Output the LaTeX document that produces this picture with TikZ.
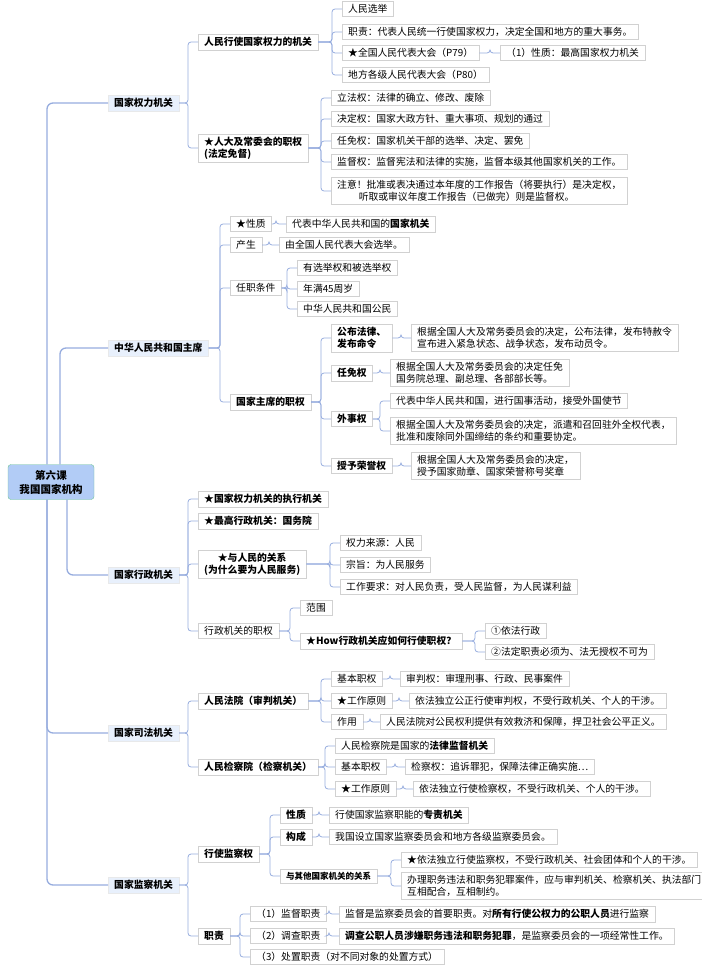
\documentclass[tikz,border=0pt]{standalone}
\usepackage{fontspec}
\setmainfont{Noto Sans CJK SC}
\usetikzlibrary{positioning}
\definecolor{linkblue}{RGB}{150,172,222}
\definecolor{hubfill}{RGB}{232,240,252}
\definecolor{rootfill}{RGB}{178,204,246}
\definecolor{rootline}{RGB}{110,196,150}
\tikzset{
  box/.style={draw=black!18, fill=white, anchor=west, inner xsep=6pt, inner ysep=3pt,
    font=\fontsize{9.8}{12}\selectfont, align=left},
  bbox/.style={box, font=\fontsize{9.8}{12}\selectfont\bfseries},
  hub/.style={bbox, fill=hubfill, draw=hubfill!60!black!20},
  root/.style={draw=rootline, fill=rootfill, rounded corners=3pt, align=center,
    minimum width=86pt, minimum height=35pt, font=\fontsize{10.5}{14}\selectfont\bfseries},
  link/.style={draw=linkblue, line width=0.8pt, rounded corners=3pt},
  trunk/.style={draw=linkblue, line width=1.3pt, rounded corners=6pt}
}
\newcommand{\conn}[2]{\draw[link] (#1.east) -- ([xshift=-10pt]#2.west |- #1.east) |- (#2.west);}
\begin{document}
\begin{tikzpicture}[x=1pt, y=-1pt]
    \useasboundingbox (0,0) rectangle (701,965);

    % root
    \node[root] (lesson) at (51,482) {第六课\\我国国家机构};

    % first level
    \node[hub] (power) at (108,103) {国家权力机关};
    \node[hub] (chair) at (108,348) {中华人民共和国主席};
    \node[hub] (admin) at (108,575) {国家行政机关};
    \node[hub] (judic) at (108,733) {国家司法机关};
    \node[hub] (super) at (108,885) {国家监察机关};

    \draw[trunk] ([xshift=-4pt]lesson.north) |- (power.west);
    \draw[trunk] ([xshift=9pt]lesson.north) |- (chair.west);
    \draw[trunk] ([xshift=16pt]lesson.south) |- (admin.west);
    \draw[trunk] ([xshift=-4pt]lesson.south) |- (judic.west);
    \draw[trunk] ([xshift=-4pt]lesson.south) |- (super.west);

    % power organs
    \node[bbox] (pOrgan) at (198,42) {人民行使国家权力的机关};
    \node[bbox] (pRight) at (198,148) {★人大及常委会的职权\\(法定免督)};
    \conn{power}{pOrgan} \conn{power}{pRight}

    \node[box] (pElect) at (342,9) {人民选举};
    \node[box] (pDuty) at (342,32) {职责：代表人民统一行使国家权力，决定全国和地方的重大事务。};
    \node[box] (pNPC) at (342,53) {★全国人民代表大会（P79）};
    \node[box] (pLocal) at (342,75) {地方各级人民代表大会（P80）};
    \node[box] (pNature) at (500,53) {（1）性质：最高国家权力机关};
    \foreach \c in {pElect,pDuty,pNPC,pLocal} {\conn{pOrgan}{\c}}
    \conn{pNPC}{pNature}

    \node[box] (rLaw) at (331,98) {立法权：法律的确立、修改、废除};
    \node[box] (rDecide) at (331,119) {决定权：国家大政方针、重大事项、规划的通过};
    \node[box] (rAppoint) at (331,141) {任免权：国家机关干部的选举、决定、罢免};
    \node[box] (rWatch) at (331,162) {监督权：监督宪法和法律的实施，监督本级其他国家机关的工作。};
    \node[box] (rNote) at (331,191) {注意！批准或表决通过本年度的工作报告（将要执行）是决定权，\\\hspace{2.2em}听取或审议年度工作报告（已做完）则是监督权。};
    \foreach \c in {rLaw,rDecide,rAppoint,rWatch,rNote} {\conn{pRight}{\c}}

    % president
    \node[box] (cNature) at (230,224) {★性质};
    \node[box] (cOrigin) at (230,245) {产生};
    \node[box] (cCond) at (230,288) {任职条件};
    \node[bbox] (cRight) at (230,402) {国家主席的职权};
    \foreach \c in {cNature,cOrigin,cCond,cRight} {\conn{chair}{\c}}

    \node[box] (cNatureT) at (286,224) {代表中华人民共和国的\textbf{国家机关}};
    \node[box] (cOriginT) at (279,245) {由全国人民代表大会选举。};
    \conn{cNature}{cNatureT} \conn{cOrigin}{cOriginT}

    \node[box] (cVote) at (297,268) {有选举权和被选举权};
    \node[box] (cAge) at (297,289) {年满45周岁};
    \node[box] (cCitizen) at (297,309) {中华人民共和国公民};
    \foreach \c in {cVote,cAge,cCitizen} {\conn{cCond}{\c}}

    \node[bbox] (cLaw) at (331,338) {公布法律、\\发布命令};
    \node[bbox] (cAppoint) at (331,373) {任免权};
    \node[bbox] (cForeign) at (331,419) {外事权};
    \node[bbox] (cHonor) at (331,466) {授予荣誉权};
    \foreach \c in {cLaw,cAppoint,cForeign,cHonor} {\conn{cRight}{\c}}

    \node[box] (cLawT) at (411,338) {根据全国人大及常务委员会的决定，公布法律，发布特赦令\\宣布进入紧急状态、战争状态，发布动员令。};
    \node[box] (cAppointT) at (390,373) {根据全国人大及常务委员会的决定任免\\国务院总理、副总理、各部部长等。};
    \node[box] (cForeignA) at (390,401) {代表中华人民共和国，进行国事活动，接受外国使节};
    \node[box] (cForeignB) at (390,431) {根据全国人大及常务委员会的决定，派遣和召回驻外全权代表，\\批准和废除同外国缔结的条约和重要协定。};
    \node[box] (cHonorT) at (411,466) {根据全国人大及常务委员会的决定，\\授予国家勋章、国家荣誉称号奖章};
    \conn{cLaw}{cLawT} \conn{cAppoint}{cAppointT}
    \conn{cForeign}{cForeignA} \conn{cForeign}{cForeignB}
    \conn{cHonor}{cHonorT}

    % administration
    \node[bbox] (aExec) at (198,499) {★国家权力机关的执行机关};
    \node[bbox] (aTop) at (198,521) {★最高行政机关：国务院};
    \node[bbox, align=center] (aPeople) at (198,564) {★与人民的关系\\(为什么要为人民服务)};
    \node[box] (aRight) at (198,631) {行政机关的职权};
    \foreach \c in {aExec,aTop,aPeople,aRight} {\conn{admin}{\c}}

    \node[box] (aSource) at (340,543) {权力来源：人民};
    \node[box] (aAim) at (340,565) {宗旨：为人民服务};
    \node[box] (aReq) at (340,587) {工作要求：对人民负责，受人民监督，为人民谋利益};
    \foreach \c in {aSource,aAim,aReq} {\conn{aPeople}{\c}}

    \node[box] (aScope) at (300,608) {范围};
    \node[bbox] (aHow) at (300,641) {★How行政机关应如何行使职权？};
    \conn{aRight}{aScope} \conn{aRight}{aHow}
    \node[box] (aLaw) at (485,631) {①依法行政};
    \node[box] (aDuty) at (485,652) {②法定职责必须为、法无授权不可为};
    \conn{aHow}{aLaw} \conn{aHow}{aDuty}

    % judiciary
    \node[bbox] (jCourt) at (198,701) {人民法院（审判机关）};
    \node[bbox] (jProc) at (198,767) {人民检察院（检察机关）};
    \conn{judic}{jCourt} \conn{judic}{jProc}

    \node[box] (jcBasic) at (331,679) {基本职权};
    \node[box] (jcRule) at (331,701) {★工作原则};
    \node[box] (jcRole) at (331,722) {作用};
    \foreach \c in {jcBasic,jcRule,jcRole} {\conn{jCourt}{\c}}
    \node[box] (jcBasicT) at (400,679) {审判权：审理刑事、行政、民事案件};
    \node[box] (jcRuleT) at (409,701) {依法独立公正行使审判权，不受行政机关、个人的干涉。};
    \node[box] (jcRoleT) at (380,722) {人民法院对公民权利提供有效救济和保障，捍卫社会公平正义。};
    \conn{jcBasic}{jcBasicT} \conn{jcRule}{jcRuleT} \conn{jcRole}{jcRoleT}

    \node[box] (jpNature) at (335,746) {人民检察院是国家的\textbf{法律监督机关}};
    \node[box] (jpBasic) at (335,767) {基本职权};
    \node[box] (jpRule) at (335,789) {★工作原则};
    \foreach \c in {jpNature,jpBasic,jpRule} {\conn{jProc}{\c}}
    \node[box] (jpBasicT) at (405,767) {检察权：追诉罪犯，保障法律正确实施…};
    \node[box] (jpRuleT) at (413,789) {依法独立行使检察权，不受行政机关、个人的干涉。};
    \conn{jpBasic}{jpBasicT} \conn{jpRule}{jpRuleT}

    % supervision
    \node[bbox] (sPower) at (198,854) {行使监察权};
    \node[bbox] (sDuty) at (198,936) {职责};
    \conn{super}{sPower} \conn{super}{sDuty}

    \node[bbox] (sNature) at (280,815) {性质};
    \node[bbox] (sMake) at (280,837) {构成};
    \node[bbox, font=\fontsize{8.5}{11}\selectfont\bfseries] (sRel) at (280,876) {与其他国家机关的关系};
    \foreach \c in {sNature,sMake,sRel} {\conn{sPower}{\c}}
    \node[box] (sNatureT) at (329,815) {行使国家监察职能的\textbf{专责机关}};
    \node[box] (sMakeT) at (329,837) {我国设立国家监察委员会和地方各级监察委员会。};
    \conn{sNature}{sNatureT} \conn{sMake}{sMakeT}
    \node[box] (sRelA) at (401,860) {★依法独立行使监察权，不受行政机关、社会团体和个人的干涉。};
    \node[box] (sRelB) at (401,886) {办理职务违法和职务犯罪案件，应与审判机关、检察机关、执法部门\\互相配合，互相制约。};
    \conn{sRel}{sRelA} \conn{sRel}{sRelB}

    \node[box] (sWatch) at (250,914) {（1）监督职责};
    \node[box] (sCheck) at (250,936) {（2）调查职责};
    \node[box] (sHandle) at (250,957) {（3）处置职责（对不同对象的处置方式）};
    \foreach \c in {sWatch,sCheck,sHandle} {\conn{sDuty}{\c}}
    \node[box] (sWatchT) at (339,914) {监督是监察委员会的首要职责。对\textbf{所有行使公权力的公职人员}进行监察};
    \node[box] (sCheckT) at (339,936) {\textbf{调查公职人员涉嫌职务违法和职务犯罪}，是监察委员会的一项经常性工作。};
    \conn{sWatch}{sWatchT} \conn{sCheck}{sCheckT}
\end{tikzpicture}
\end{document}
